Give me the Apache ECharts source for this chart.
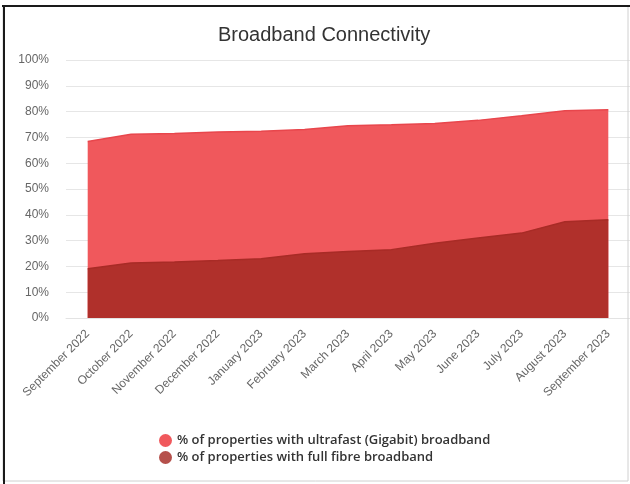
<!DOCTYPE html>
<html>
<head>
<meta charset="utf-8">
<script src="https://cdn.jsdelivr.net/npm/echarts@6/dist/echarts.min.js"></script>
<style>
  html, body { margin: 0; padding: 0; background: #fff; }
  #chart { width: 630px; height: 484px; }
</style>
</head>
<body>
<div id="chart"></div>
<script>
// Monthly broadband coverage figures (% of properties)
const months = [
  'September 2022', 'October 2022', 'November 2022', 'December 2022',
  'January 2023', 'February 2023', 'March 2023', 'April 2023', 'May 2023',
  'June 2023', 'July 2023', 'August 2023', 'September 2023'
];
const ultrafastGigabit = [68.4, 71.2, 71.5, 72.1, 72.4, 73.1, 74.5, 74.9, 75.4, 76.6, 78.4, 80.3, 80.7];
const fullFibre = [19.1, 21.3, 21.7, 22.3, 23.0, 24.9, 25.8, 26.5, 29.0, 31.0, 32.9, 37.3, 38.1];

const seriesNames = [
  '% of properties with ultrafast (Gigabit) broadband',
  '% of properties with full fibre broadband'
];

const chart = echarts.init(document.getElementById('chart'), null, { renderer: 'canvas' });

chart.setOption({
  animation: false,
  backgroundColor: '#ffffff',
  title: {
    text: 'Broadband Connectivity',
    left: 213,
    top: 20,
    textStyle: {
      fontFamily: 'Liberation Sans, Arial, sans-serif',
      fontSize: 20,
      fontWeight: 'normal',
      color: '#333333'
    }
  },
  legend: {
    orient: 'vertical',
    left: 154,
    top: 429,
    itemWidth: 13,
    itemHeight: 13,
    itemGap: 4,
    icon: 'circle',
    textStyle: {
      fontFamily: 'Open Sans, Liberation Sans, sans-serif',
      fontSize: 13,
      fontWeight: 600,
      color: '#333333'
    },
    data: [
      { name: seriesNames[0], itemStyle: { color: '#f0585c' } },
      { name: seriesNames[1], itemStyle: { color: '#b5504b' } }
    ]
  },
  grid: {
    left: 66,
    right: 0,
    top: 60,
    bottom: 166
  },
  xAxis: {
    type: 'category',
    data: months,
    boundaryGap: true,
    axisLine: { show: true, lineStyle: { color: '#e3e3e3' } },
    axisTick: { show: false },
    axisLabel: {
      rotate: 45,
      interval: 0,
      margin: 14,
      fontFamily: 'Liberation Sans, Arial, sans-serif',
      fontSize: 12,
      color: '#666666'
    }
  },
  yAxis: {
    type: 'value',
    min: 0,
    max: 100,
    interval: 10,
    axisLine: { show: false },
    axisTick: { show: false },
    splitLine: { lineStyle: { color: '#e6e6e6' } },
    axisLabel: {
      formatter: '{value}%',
      margin: 17,
      fontFamily: 'Liberation Sans, Arial, sans-serif',
      fontSize: 12,
      color: '#666666'
    }
  },
  series: [
    {
      name: seriesNames[0],
      type: 'line',
      data: ultrafastGigabit,
      symbol: 'none',
      lineStyle: { width: 1.5, color: '#e8464c' },
      itemStyle: { color: '#f0585c' },
      areaStyle: { color: '#f0585c', opacity: 1 },
      z: 2
    },
    {
      name: seriesNames[1],
      type: 'line',
      data: fullFibre,
      symbol: 'none',
      lineStyle: { width: 1.5, color: '#a82b26' },
      itemStyle: { color: '#b5504b' },
      areaStyle: { color: '#b0302b', opacity: 1 },
      z: 3
    }
  ],
  graphic: [
    // light outer frame on the right and bottom
    {
      type: 'rect',
      shape: { x: 3, y: 6, width: 625, height: 475 },
      style: { fill: 'none', stroke: '#d0d0d0', lineWidth: 1 },
      z: 99
    },
    // dark top edge
    {
      type: 'line',
      shape: { x1: 2, y1: 6, x2: 630, y2: 6 },
      style: { stroke: '#1a1a1a', lineWidth: 2 },
      z: 100
    },
    // dark left edge
    {
      type: 'line',
      shape: { x1: 4, y1: 5, x2: 4, y2: 484 },
      style: { stroke: '#1a1a1a', lineWidth: 2 },
      z: 100
    }
  ]
});
</script>
</body>
</html>
